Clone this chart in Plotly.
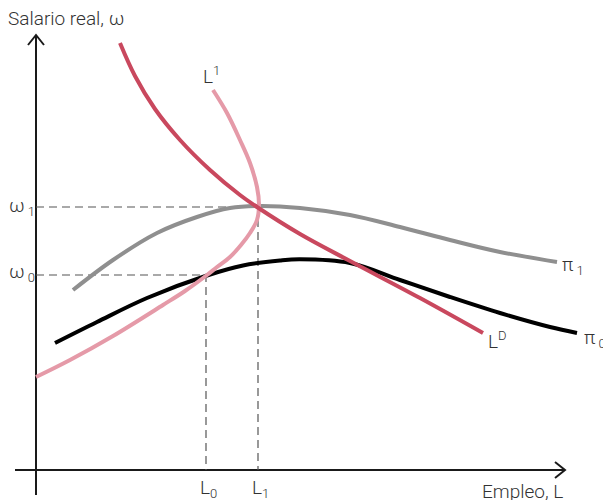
import plotly.graph_objects as go

# Coordinates: units measured from the origin of the axes (employment, real wage)
ld_x = [84, 99, 119, 144, 174, 204, 221, 264, 314, 384, 447]
ld_y = [427, 394, 361, 330, 300, 275, 263, 236, 209, 172, 137]

l1_x = [177, 191, 204, 214, 221, 223, 221, 214, 205, 194, 181, 171, 149, 127, 77, 34, 0]
l1_y = [380, 357, 330, 307, 283, 265, 250, 237, 225, 213, 203, 195, 179, 165, 134, 110, 93]

pi1_x = [37, 77, 121, 161, 194, 224, 264, 314, 364, 414, 464, 521]
pi1_y = [180, 210, 237, 253, 262, 264, 262, 255, 243, 230, 218, 208]

pi0_x = [19, 61, 111, 171, 207, 244, 264, 314, 364, 414, 464, 514, 541]
pi0_y = [127, 148, 172, 194.5, 204.5, 209.5, 210.7, 207, 190, 173, 157, 143, 137]

L0, L1 = 170, 222
W0, W1 = 195, 263

X_MAX, Y_MAX = 529, 435

FONT = dict(family="Roboto", size=19, color="#333333", weight=300)
SUB = 'font-size:13px'

fig = go.Figure()

# Axes
axis_line = dict(color="#1a1a1a", width=2)
fig.add_trace(go.Scatter(x=[0, 0], y=[-25, Y_MAX], mode="lines", line=axis_line, hoverinfo="skip"))
fig.add_trace(go.Scatter(x=[-8, 0, 8], y=[Y_MAX - 10, Y_MAX, Y_MAX - 10], mode="lines",
                         line=axis_line, hoverinfo="skip"))
fig.add_trace(go.Scatter(x=[-21, X_MAX], y=[0, 0], mode="lines", line=axis_line, hoverinfo="skip"))
fig.add_trace(go.Scatter(x=[X_MAX - 10, X_MAX, X_MAX - 10], y=[8, 0, -8], mode="lines",
                         line=axis_line, hoverinfo="skip"))

# Dashed guide lines
dash = dict(color="#555555", width=1.2, dash="8px,5px")
fig.add_trace(go.Scatter(x=[0, L1, L1], y=[W1, W1, 0], mode="lines", line=dash, hoverinfo="skip"))
fig.add_trace(go.Scatter(x=[0, L0, L0], y=[W0, W0, 0], mode="lines", line=dash, hoverinfo="skip"))

# Curves
spline = dict(width=4, shape="spline", smoothing=1)
fig.add_trace(go.Scatter(x=pi1_x, y=pi1_y, mode="lines", line=dict(color="#8f8f8f", **spline)))
fig.add_trace(go.Scatter(x=pi0_x, y=pi0_y, mode="lines", line=dict(color="#000000", **spline)))
fig.add_trace(go.Scatter(x=l1_x, y=l1_y, mode="lines", line=dict(color="#e59aa8", **spline)))
fig.add_trace(go.Scatter(x=ld_x, y=ld_y, mode="lines", line=dict(color="#c9485e", **spline)))

ann = [
    dict(x=-30, y=452, text="Salario real, ω", xanchor="left"),
    dict(x=X_MAX, y=-21, text="Empleo, L", xanchor="right"),
    dict(x=-29, y=W1 + 1, text=f"ω<sub><span style='{SUB}'> 1</span></sub>", xanchor="left"),
    dict(x=-29, y=W0 + 3, text=f"ω<sub><span style='{SUB}'> 0</span></sub>", xanchor="left"),
    dict(x=L0 + 2, y=-18, text=f"L<sub><span style='{SUB}'>0</span></sub>", xanchor="center"),
    dict(x=L1 + 2, y=-18, text=f"L<sub><span style='{SUB}'>1</span></sub>", xanchor="center"),
    dict(x=175, y=395, text=f"L<sup><span style='{SUB}'>1</span></sup>", xanchor="center"),
    dict(x=461, y=130, text=f"L<sup><span style='{SUB}'>D</span></sup>", xanchor="center"),
    dict(x=537, y=205, text=f"π<sub><span style='{SUB}'> 1</span></sub>", xanchor="center"),
    dict(x=559, y=132, text=f"π<sub><span style='{SUB}'> 0</span></sub>", xanchor="center"),
]
for a in ann:
    a.update(showarrow=False, xref="x", yref="y", yanchor="middle", font=FONT)

fig.update_layout(
    width=603, height=500,
    margin=dict(l=0, r=0, t=0, b=0),
    paper_bgcolor="white", plot_bgcolor="white",
    showlegend=False,
    xaxis=dict(range=[-36, 567], visible=False, fixedrange=True),
    yaxis=dict(range=[-30, 470], visible=False, fixedrange=True),
    annotations=ann,
)

fig.write_html("out.html", config={"displayModeBar": False},
               post_script="document.body.style.margin='0';document.body.style.overflow='hidden';")
